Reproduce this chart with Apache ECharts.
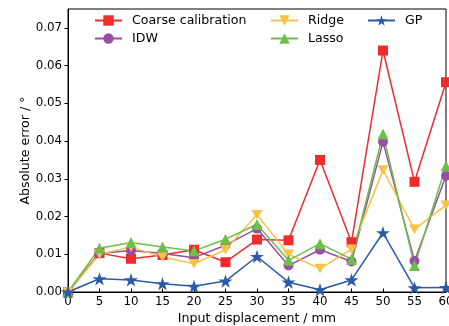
<!DOCTYPE html>
<html>
<head>
<meta charset="utf-8">
<script src="https://cdn.jsdelivr.net/npm/echarts@6/dist/echarts.min.js"></script>
<style>
  html, body { margin: 0; padding: 0; background: #fff; }
  #chart { width: 449px; height: 326px; }
</style>
</head>
<body>
<div id="chart"></div>
<script>
// Input displacement (mm) at which each method was evaluated
const displacement = [0, 5, 10, 15, 20, 25, 30, 35, 40, 45, 50, 55, 60];

// Absolute angular error (degrees) per method
const coarseCalibration = [0, 0.0103, 0.0088, 0.0098, 0.0112, 0.0079, 0.0139, 0.0137, 0.0350, 0.0132, 0.0640, 0.0292, 0.0556];
const idw              = [0, 0.0102, 0.0110, 0.0102, 0.0091, 0.0124, 0.0168, 0.0070, 0.0112, 0.0081, 0.0398, 0.0082, 0.0308];
const ridge            = [0, 0.0100, 0.0119, 0.0093, 0.0075, 0.0112, 0.0205, 0.0100, 0.0062, 0.0113, 0.0323, 0.0166, 0.0230];
const lasso            = [0, 0.0116, 0.0131, 0.0119, 0.0109, 0.0140, 0.0179, 0.0084, 0.0128, 0.0087, 0.0419, 0.0070, 0.0334];
const gp               = [0, 0.0035, 0.0032, 0.0022, 0.0015, 0.0029, 0.0094, 0.0026, 0.0006, 0.0032, 0.0157, 0.0011, 0.0012];

// Axis ticks
const xTicks = [0, 5, 10, 15, 20, 25, 30, 35, 40, 45, 50, 55, 60];
const yTicks = [0, 0.01, 0.02, 0.03, 0.04, 0.05, 0.06, 0.07];

const FONT = 'DejaVu Sans';
const STAR = 'path://M10,0L12.245,6.91L19.511,6.91L13.633,11.18L15.878,18.09L10,13.82L4.122,18.09L6.367,11.18L0.489,6.91L7.755,6.91Z';
const TRI_DOWN = 'path://M0,0L10,0L5,8.66Z';

function lineSeries(name, values, color, symbol, size) {
  return {
    name: name,
    type: 'line',
    data: displacement.map((x, i) => [x, values[i]]),
    symbol: symbol,
    symbolSize: size,
    symbolKeepAspect: true,
    showAllSymbol: true,
    clip: false,
    itemStyle: { color: color, borderWidth: 0 },
    lineStyle: { color: color, width: 1.5 },
    emphasis: { disabled: true }
  };
}

function legendBlock(left, names) {
  return {
    left: left,
    top: 14,
    orient: 'vertical',
    padding: 0,
    itemWidth: 27,
    itemHeight: 13,
    itemGap: 5,
    data: names,
    textStyle: { fontFamily: FONT, fontSize: 12.6, color: '#000', padding: [0, 0, 0, 5] }
  };
}

const chart = echarts.init(document.getElementById('chart'), null, { renderer: 'canvas' });
chart.setOption({
  animation: false,
  backgroundColor: '#fff',
  grid: {
    left: 68, right: 3, top: 9, bottom: 34,
    outerBoundsMode: 'none',
    containLabel: false,
    show: true, borderColor: '#000', borderWidth: 1, backgroundColor: 'transparent'
  },
  legend: [
    legendBlock(94, ['Coarse calibration', 'IDW']),
    legendBlock(270, ['Ridge', 'Lasso']),
    legendBlock(367, ['GP'])
  ],
  xAxis: {
    type: 'value',
    min: 0, max: 60, interval: 5,
    name: 'Input displacement / mm',
    nameLocation: 'middle',
    nameGap: 20,
    nameMoveOverlap: false,
    nameTextStyle: { fontFamily: FONT, fontSize: 12.6, color: '#000' },
    axisLine: { show: true, lineStyle: { color: '#000', width: 1 } },
    axisTick: { show: true, inside: true, length: 3.5, lineStyle: { color: '#000' }, customValues: xTicks },
    axisLabel: { fontFamily: FONT, fontSize: 11.8, color: '#000', margin: 4, customValues: xTicks, hideOverlap: false },
    splitLine: { show: false }
  },
  yAxis: {
    type: 'value',
    min: 0, max: 0.075,
    name: 'Absolute error / °',
    nameLocation: 'middle',
    nameGap: 36,
    nameMoveOverlap: false,
    nameTextStyle: { fontFamily: FONT, fontSize: 12.6, color: '#000' },
    axisLine: { show: true, lineStyle: { color: '#000', width: 1 } },
    axisTick: { show: true, inside: false, length: 3.5, lineStyle: { color: '#000' }, customValues: yTicks },
    axisLabel: {
      fontFamily: FONT, fontSize: 11.8, color: '#000', margin: 6,
      customValues: yTicks,
      formatter: v => v.toFixed(2)
    },
    splitLine: { show: false }
  },
  series: [
    lineSeries('Coarse calibration', coarseCalibration, '#ee2c2c', 'rect', 10),
    lineSeries('IDW', idw, '#984ea3', 'circle', 10),
    lineSeries('Ridge', ridge, '#f6c445', TRI_DOWN, 11),
    lineSeries('Lasso', lasso, '#6cbf48', 'triangle', 11),
    lineSeries('GP', gp, '#2b5aa8', STAR, 14)
  ]
});
</script>
</body>
</html>
